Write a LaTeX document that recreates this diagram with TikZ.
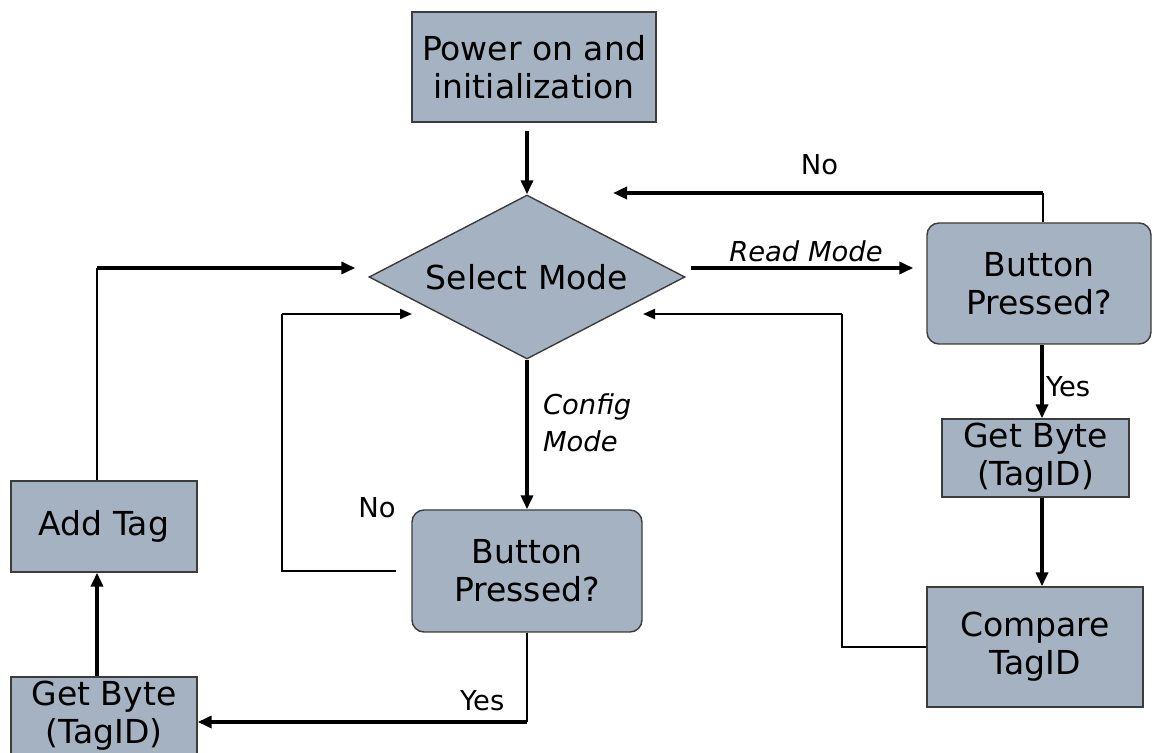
\documentclass[tikz,border=0pt]{standalone}
\usepackage{fontspec}
\setmainfont{DejaVu Sans}
\usetikzlibrary{arrows.meta, shapes.geometric}

\definecolor{boxfill}{RGB}{164,178,194}
\definecolor{boxline}{RGB}{60,60,60}

\begin{document}
\begin{tikzpicture}[
    x=0.5pt, y=-0.5pt,
    >={Triangle[length=7pt,width=6pt]},
    procbox/.style={
        draw=boxline,
        line width=0.7pt,
        fill=boxfill,
        inner sep=0pt,
        align=center,
        font=\fontsize{16.5}{19}\selectfont
    },
    roundbox/.style={
        procbox,
        rounded corners=6pt
    },
    decision/.style={
        procbox,
        diamond,
        shape aspect=1.93,
        minimum width=158pt,
        minimum height=82pt
    },
    lab/.style={
        font=\fontsize{13.7}{18.5}\selectfont,
        inner sep=2pt
    },
    mainarr/.style={->, line width=2pt},
    backarr/.style={->, line width=1pt, >={Triangle[length=6pt,width=5pt]}},
    thinln/.style={line width=0.7pt}
]

\clip (0,0) rectangle (1153,753);

% =========================================================
% Start and mode choice
% =========================================================
\node[procbox, minimum width=122pt, minimum height=55pt] (power) at (534,67)
    {Power on and\\initialization};
\node[decision] (select) at (527,277) {Select Mode};

\draw[mainarr, shorten <=4pt] (power.south -| select.north) -- (select.north);

% =========================================================
% Read mode branch (right)
% =========================================================
\node[roundbox, minimum width=112pt, minimum height=60.5pt] (btnR) at (1039,283.5)
    {Button\\Pressed?};
\node[procbox, minimum width=93.5pt, minimum height=39pt] (getR) at (1035.5,458)
    {Get Byte\\(TagID)};
\node[procbox, minimum width=108pt, minimum height=60pt] (cmp) at (1035,647)
    {Compare\\TagID};

\coordinate (colR)   at (1042,0);
\coordinate (noR)    at (1043,193);
\coordinate (noRend) at (613,193);
\coordinate (cmpR)   at (842,647);
\coordinate (cmpRin) at (643,314);

\draw[mainarr, shorten <=2.5pt, shorten >=6.5pt]
    ([yshift=4.5pt]select.east) -- ([yshift=4.5pt]select.east -| btnR.west)
    node[midway, above, lab] {\itshape Read Mode};

\draw[thinln] (btnR.north -| noR) -- (noR);
\draw[mainarr] (noR) -- node[pos=0.52, above=6pt, lab] {No} (noRend);

\draw[mainarr] (btnR.south -| colR) --
    node[pos=0.57, right, lab, inner sep=1pt] {Yes}
    (getR.north -| colR);
\draw[mainarr] (getR.south -| colR) -- (cmp.north -| colR);

\draw[thinln] (cmp.west |- cmpR) -- (cmpR) -- (cmpR |- cmpRin);
\draw[backarr] (cmpR |- cmpRin) -- (cmpRin);

% =========================================================
% Config mode branch (middle and left)
% =========================================================
\node[roundbox, minimum width=115pt, minimum height=61pt] (btnC) at (527,571)
    {Button\\Pressed?};
\node[procbox, minimum width=93pt, minimum height=45.5pt] (add) at (104,526.5)
    {Add Tag};
\node[procbox, minimum width=93pt, minimum height=39pt] (getL) at (104,716)
    {Get Byte\\(TagID)};

\draw[mainarr] (select.south) --
    node[pos=0.42, right=5pt, lab, align=left] {\itshape Config\\\itshape Mode}
    (btnC.north);

\coordinate (noC)   at (282,571);
\coordinate (noCin) at (412,314);
\node[lab] (noClab) at (377,508) {No};

\draw[thinln, shorten <=7.5pt] (btnC.west) -- (btnC.west -| noC) -- (noC |- noCin);
\draw[backarr] (noC |- noCin) -- (noCin);

\coordinate (yesC) at (527,722);
\draw[thinln] (btnC.south) -- (yesC);
\draw[mainarr] (yesC) --
    node[pos=0.136, above=2.5pt, lab] {Yes}
    (yesC -| getL.east);

\draw[mainarr] ([xshift=-3.5pt]getL.north) -- ([xshift=-3.5pt]add.south);

\coordinate (addUp) at (97,268);
\draw[thinln] ([xshift=-3.5pt]add.north) -- (addUp);
\draw[mainarr, shorten >=6.5pt] (addUp) -- ([yshift=4.5pt]select.west);

\end{tikzpicture}
\end{document}
